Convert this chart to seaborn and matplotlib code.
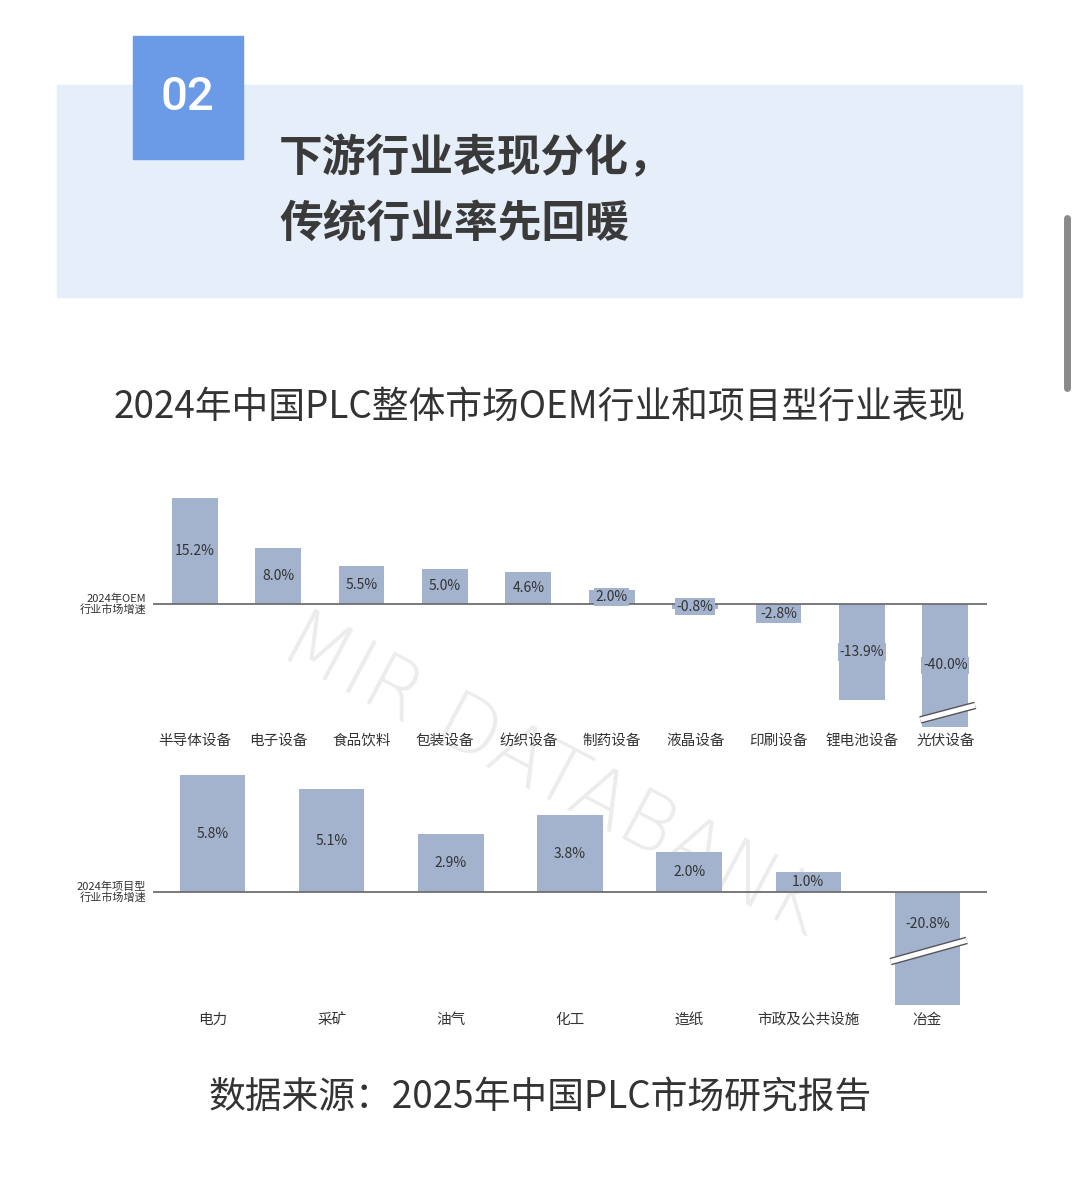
import matplotlib
matplotlib.use("Agg")
import matplotlib.pyplot as plt
import seaborn as sns
from matplotlib.patches import Rectangle
from matplotlib.lines import Line2D

# data
oem_cats = ['半导体设备', '电子设备', '食品饮料', '包装设备', '纺织设备',
            '制药设备', '液晶设备', '印刷设备', '锂电池设备', '光伏设备']
oem_vals = [15.2, 8.0, 5.5, 5.0, 4.6, 2.0, -0.8, -2.8, -13.9, -40.0]
proj_cats = ['电力', '采矿', '油气', '化工', '造纸', '市政及公共设施', '冶金']
proj_vals = [5.8, 5.1, 2.9, 3.8, 2.0, 1.0, -20.8]

header_no = '02'
header_lines = ['下游行业表现分化，', '传统行业率先回暖']
chart_title = '2024年中国PLC整体市场OEM行业和项目型行业表现'
oem_side = '2024年OEM\n行业市场增速'
proj_side = '2024年项目型\n行业市场增速'
source = '数据来源：2025年中国PLC市场研究报告'
watermark = 'MIR DATABANK'

BAR = '#a3b2cd'
TXT = '#333333'
W, H = 1080, 1181

sns.set_style('white')
plt.rcParams['font.family'] = ['Noto Sans CJK SC', 'DejaVu Sans']


def fx(x):
    return x / W


def fy(y):
    return 1 - y / H


def box(x0, y0, x1, y1):
    return [fx(x0), fy(y1), (x1 - x0) / W, (y1 - y0) / H]


fig = plt.figure(figsize=(W / 100, H / 100), dpi=100)
fig.patch.set_facecolor('white')

# header block
fig.patches.append(Rectangle((fx(57), fy(297)), (1022 - 57) / W, (297 - 85) / H,
                             transform=fig.transFigure, color='#e6eef9', zorder=0))
fig.patches.append(Rectangle((fx(133), fy(159)), (243 - 133) / W, (159 - 36) / H,
                             transform=fig.transFigure, color='#6b9be6', zorder=1))
fig.text(fx(187), fy(97), header_no, color='white', fontsize=34, fontweight='medium',
         ha='center', va='center', family=['Roboto', 'DejaVu Sans'], zorder=2)
fig.text(fx(279), fy(158), header_lines[0], color='#3a3a3a', fontsize=31.5,
         fontweight='bold', ha='left', va='center')
fig.text(fx(279), fy(225), header_lines[1], color='#3a3a3a', fontsize=31.5,
         fontweight='bold', ha='left', va='center')

# scrollbar of the screenshot
fig.lines.append(Line2D([fx(1067), fx(1067)], [fy(218), fy(388)], transform=fig.transFigure,
                        color='#8a8a8a', lw=5, solid_capstyle='round'))

fig.text(0.5, fy(407), chart_title, color=TXT, fontsize=26.5, ha='center', va='center')
fig.text(0.5, fy(1098), source, color=TXT, fontsize=26.5, ha='center', va='center')

# watermark, behind the bars
fig.text(fx(552), fy(776), watermark, rotation=-28, fontsize=58, color='#ececec',
         ha='center', va='center', family='DejaVu Sans', fontweight='light',
         zorder=-1)


def draw(ax, cats, vals, floor, ylim, side, break_x, break_y, label_frac, pad):
    shown = [max(v, floor) for v in vals]
    sns.barplot(x=cats, y=shown, color=BAR, saturation=1, width=0.55,
                linewidth=0, ax=ax)
    ax.set_xlim(-0.5, len(cats) - 0.5)
    ax.set_ylim(*ylim)
    ax.axhline(0, color='#6e6e6e', lw=1.3, zorder=3)
    for s in ax.spines.values():
        s.set_visible(False)
    ax.set_yticks([])
    ax.set_xlabel('')
    ax.tick_params(axis='x', length=0, pad=pad, labelsize=10.5, labelcolor=TXT)
    for i, (v, d) in enumerate(zip(vals, shown)):
        yy = d / 2 if v == d else d * label_frac
        ax.text(i, yy, f'{v:.1f}%', ha='center', va='center', fontsize=10,
                color=TXT, zorder=5,
                bbox=dict(facecolor=BAR, edgecolor='none', pad=1.2))
        if v != d:
            # axis break mark on the cut bar
            ax.plot(break_x, break_y, color='#555555', lw=5.5,
                    solid_capstyle='butt', zorder=6, clip_on=False)
            ax.plot(break_x, break_y, color='white', lw=3.5,
                    solid_capstyle='butt', zorder=7, clip_on=False)
    ax.text(-0.008, 0, side, transform=ax.get_yaxis_transform(), ha='right',
            va='center', fontsize=8, color=TXT, linespacing=1.0)


ax1 = fig.add_axes(box(153, 496, 987, 729))
ax1.patch.set_alpha(0)
draw(ax1, oem_cats, oem_vals, -17.7, (-18.0, 15.5), oem_side,
     [8.70, 9.36], [-16.7, -14.6], 0.5, 3.6)

ax2 = fig.add_axes(box(153, 771, 987, 1009))
ax2.patch.set_alpha(0)
draw(ax2, proj_cats, proj_vals, -5.6, (-5.8, 6.0), proj_side,
     [5.69, 6.33], [-3.45, -2.4], 0.28, 3.0)

fig.savefig('out.png', dpi=100)
